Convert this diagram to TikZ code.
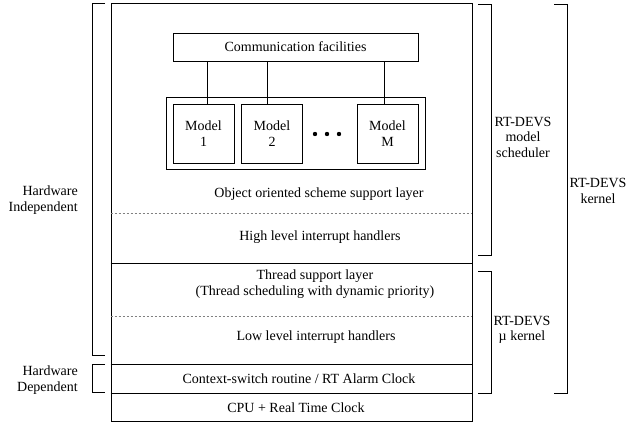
\documentclass[tikz,border=0pt]{standalone}
\usepackage{fontspec}
\setmainfont{Liberation Serif}
\begin{document}
\begin{tikzpicture}[x=1pt,y=-1pt,
  every node/.style={font=\fontsize{14}{15.5}\selectfont, inner sep=0pt},
  box/.style={draw, line width=0.8pt},
  modelbox/.style={box, minimum width=61pt, minimum height=59pt, align=center},
  lbl/.style={align=center},
  sepline/.style={gray, line width=0.6pt, dash pattern=on 2pt off 2pt},
  solidline/.style={line width=0.8pt},
  brk/.style={line width=0.7pt},
  conn/.style={line width=0.7pt}]
\useasboundingbox (0,0) rectangle (640,423);
% main stack
\node[box, minimum width=361pt, minimum height=418pt] (main) at (291.5,212) {};
\coordinate (d1) at (0,213);
\coordinate (s1) at (0,263);
\coordinate (d2) at (0,316);
\coordinate (s2) at (0,364);
\coordinate (s3) at (0,393);
\draw[sepline] (main.west |- d1) -- (main.east |- d1);
\draw[solidline] (main.west |- s1) -- (main.east |- s1);
\draw[sepline] (main.west |- d2) -- (main.east |- d2);
\draw[solidline] (main.west |- s2) -- (main.east |- s2);
\draw[solidline] (main.west |- s3) -- (main.east |- s3);
% communication and models
\node[box, minimum width=245pt, minimum height=28pt] (comm) at (295.5,47) {Communication facilities};
\node[box, minimum width=259pt, minimum height=72pt] (grp) at (295.5,133) {};
\node[modelbox] (m1) at (203.5,133.5) {Model\\1};
\node[modelbox] (m2) at (272,133.5) {Model\\2};
\node[modelbox] (mM) at (387.5,133.5) {Model\\M};
\draw[conn] ([xshift=3.5pt]m1.north) -- ([xshift=3.5pt]m1.north |- comm.south);
\draw[conn] ([xshift=-5pt]m2.north) -- ([xshift=-5pt]m2.north |- comm.south);
\draw[conn] ([xshift=-3.5pt]mM.north) -- ([xshift=-3.5pt]mM.north |- comm.south);
\fill (315,134) circle (2.2pt);
\fill (327,134) circle (2.2pt);
\fill (339,134) circle (2.2pt);
% layer texts
\node (oo) at (319,194) {Object oriented scheme support layer};
\node (hl) at (320,237) {High level interrupt handlers};
\node[lbl] (ts) at (315,284) {Thread support layer\\(Thread scheduling with dynamic priority)};
\node (ll) at (316,337) {Low level interrupt handlers};
\node (cs) at (299,379) {Context-switch routine / RT Alarm Clock};
\node (cpu) at (296,408) {CPU + Real Time Clock};
% left brackets
\draw[brk] (105,3) -- (92,3) -- (92,355) -- (105,355);
\draw[brk] (105,364) -- (92,364) -- (92,392) -- (105,392);
\node[align=right, anchor=east] (hwi) at (78,200) {Hardware\\Independent};
\node[align=right, anchor=east] (hwd) at (78,380) {Hardware\\Dependent};
% right brackets
\draw[brk] (478,4) -- (491,4) -- (491,255) -- (478,255);
\draw[brk] (478,271) -- (491,271) -- (491,393) -- (478,393);
\draw[brk] (554,4) -- (567,4) -- (567,393) -- (554,393);
\node[lbl] (sched) at (523,137) {RT-DEVS\\model\\scheduler};
\node[lbl] (kern) at (598,191) {RT-DEVS\\kernel};
\node[lbl] (ukern) at (522,330) {RT-DEVS\\µ kernel};
\end{tikzpicture}
\end{document}
